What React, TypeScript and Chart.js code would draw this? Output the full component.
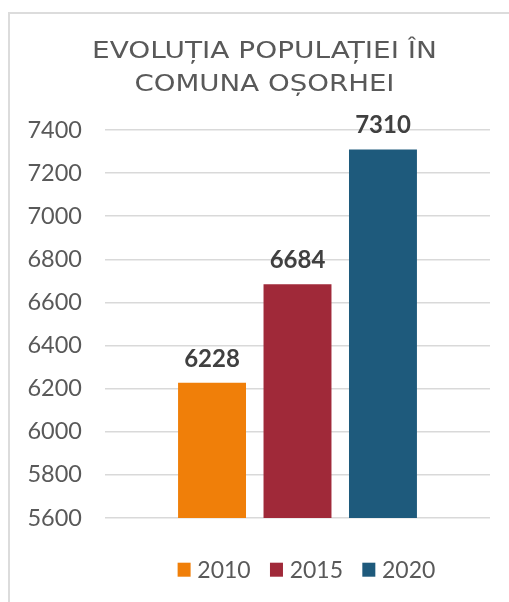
import React, { useEffect, useRef } from "react";
import { Chart, registerables } from "chart.js";

Chart.register(...registerables);

const categories = [""];
const seriesLabels = ["2010", "2015", "2020"];
const seriesValues = [6228, 6684, 7310];
const seriesColors = ["#F07F09", "#A02939", "#1E5A7C"];
const titleLines = ["EVOLUȚIA POPULAȚIEI ÎN", "COMUNA OȘORHEI"];
const yMin = 5600;
const yMax = 7400;
const yStep = 200;

const TEXT_GRAY = "#595959";
const TITLE_FONT = "23.5px 'DejaVu Sans'";
const TITLE_WIDTHS = [345, 260];
const TITLE_SPACING = 0;

const overlayPlugin = {
  id: "overlay",
  afterDatasetsDraw(chart: any) {
    const ctx = chart.ctx as CanvasRenderingContext2D;
    ctx.save();
    ctx.font = "bold 24px Lato";
    ctx.fillStyle = "#404040";
    ctx.textAlign = "center";
    ctx.textBaseline = "alphabetic";
    chart.data.datasets.forEach((ds: any, i: number) => {
      const meta = chart.getDatasetMeta(i);
      meta.data.forEach((bar: any, j: number) => {
        ctx.fillText(String(ds.data[j]), bar.x, bar.y - 16);
      });
    });
    ctx.restore();
  },
  afterDraw(chart: any) {
    const ctx = chart.ctx as CanvasRenderingContext2D;
    // Title
    const titleCenter = 254.5;
    const baselines = [44.3, 76.7];
    titleLines.forEach((line, i) => {
      ctx.save();
      ctx.font = TITLE_FONT;
      ctx.fillStyle = TEXT_GRAY;
      ctx.textAlign = "left";
      ctx.textBaseline = "alphabetic";
      (ctx as any).letterSpacing = TITLE_SPACING + "px";
      const w = ctx.measureText(line).width - TITLE_SPACING;
      const sx = TITLE_WIDTHS[i] / w;
      ctx.translate(titleCenter - TITLE_WIDTHS[i] / 2, baselines[i]);
      ctx.scale(sx, 1);
      ctx.fillText(line, 0, 0);
      ctx.restore();
    });

    // Legend
    ctx.save();
    ctx.font = "23px Lato";
    ctx.textBaseline = "alphabetic";
    ctx.textAlign = "left";
    const boxW = 13;
    const boxH = 14;
    const boxGap = 6.7;
    const itemGap = 19.3;
    const widths = chart.data.datasets.map((ds: any) => ctx.measureText(ds.label).width);
    let total = 0;
    widths.forEach((w: number, i: number) => {
      total += boxW + boxGap + w + (i < widths.length - 1 ? itemGap : 0);
    });
    let x = 296.5 - total / 2;
    const boxTop = 548.7;
    const baseline = 564;
    chart.data.datasets.forEach((ds: any, i: number) => {
      ctx.fillStyle = ds.backgroundColor;
      ctx.fillRect(x, boxTop, boxW, boxH);
      x += boxW + boxGap;
      ctx.fillStyle = TEXT_GRAY;
      ctx.fillText(ds.label, x, baseline);
      x += widths[i] + itemGap;
    });
    ctx.restore();
  },
};

export default function App() {
  const canvasRef = useRef<HTMLCanvasElement | null>(null);

  useEffect(() => {
    if (!canvasRef.current) return;
    const chart = new Chart(canvasRef.current, {
      type: "bar",
      data: {
        labels: categories,
        datasets: seriesLabels.map((label, i) => ({
          label,
          data: [seriesValues[i]],
          backgroundColor: seriesColors[i],
          borderWidth: 0,
          categoryPercentage: 0.666,
          barPercentage: 0.795,
        })),
      },
      options: {
        responsive: false,
        animation: false,
        devicePixelRatio: 1,
        layout: { padding: { top: 116, bottom: 84, left: 0, right: 19 } },
        plugins: {
          legend: { display: false },
          title: { display: false },
          tooltip: { enabled: false },
        },
        scales: {
          x: { display: false },
          y: {
            min: yMin,
            max: yMax,
            afterFit: (scale: any) => {
              scale.width = 95;
            },
            ticks: {
              stepSize: yStep,
              padding: 23,
              color: TEXT_GRAY,
              font: { family: "Lato", size: 23.5 },
              callback: (v: any) => String(v),
            },
            grid: {
              color: "#d9d9d9",
              lineWidth: 1.5,
              drawTicks: false,
            },
            border: { display: false },
          },
        },
      },
      plugins: [overlayPlugin],
    });
    return () => chart.destroy();
  }, []);

  return (
    <div
      style={{
        position: "fixed",
        left: 8,
        top: 12,
        width: 501,
        height: 590,
        boxSizing: "border-box",
        borderLeft: "2px solid #dcdcdc",
        borderTop: "2px solid #dcdcdc",
        background: "#fff",
      }}
    >
      <canvas ref={canvasRef} width={499} height={588} style={{ display: "block" }} />
    </div>
  );
}
